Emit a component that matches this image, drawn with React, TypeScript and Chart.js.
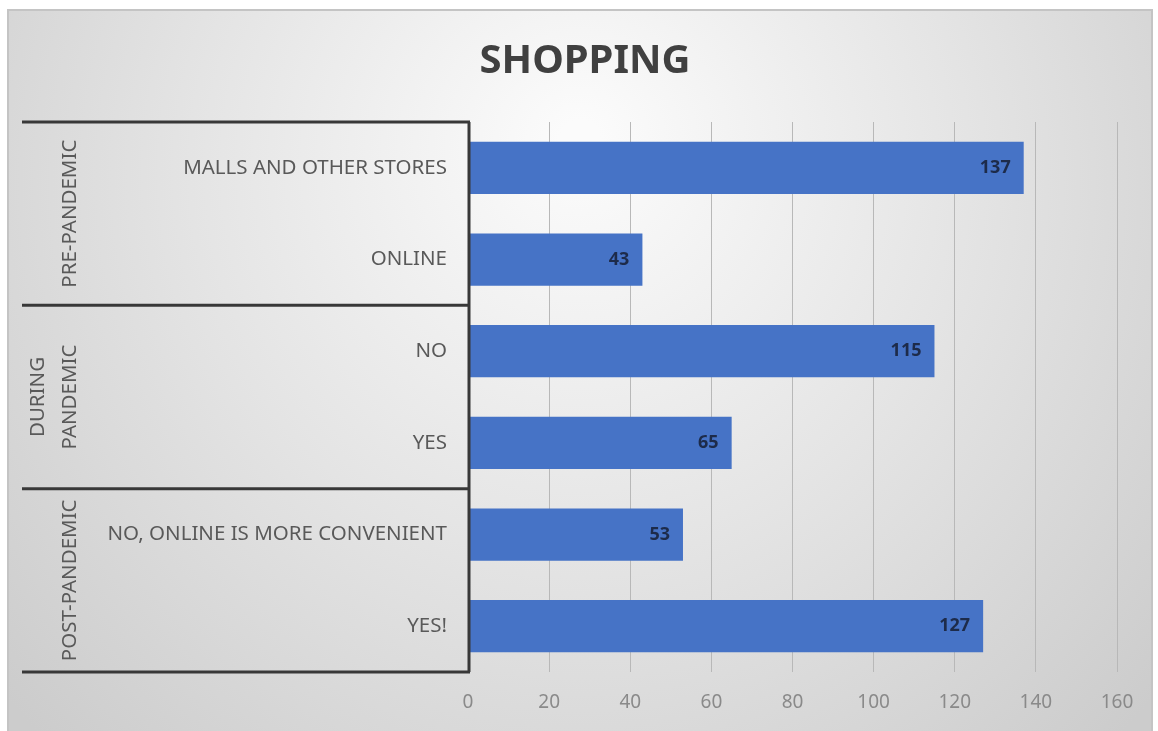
import React, { useEffect, useRef } from "react";
import { Chart, registerables } from "chart.js";

Chart.register(...registerables);

const categories = [
  "MALLS AND OTHER STORES",
  "ONLINE",
  "NO",
  "YES",
  "NO, ONLINE IS MORE CONVENIENT",
  "YES!",
];
const values = [137, 43, 115, 65, 53, 127];
const groups: { label: string[]; count: number }[] = [
  { label: ["PRE-PANDEMIC"], count: 2 },
  { label: ["DURING", "PANDEMIC"], count: 2 },
  { label: ["POST-PANDEMIC"], count: 2 },
];
const xMin = 0;
const xMax = 160;
const xStep = 20;
const titleText = "SHOPPING";

const FONT = "'Noto Sans', sans-serif";

const backgroundPlugin = {
  id: "bgPlugin",
  beforeDraw(chart: any) {
    const { ctx, width, height } = chart;
    ctx.save();
    ctx.fillStyle = "#ffffff";
    ctx.fillRect(0, 0, width, height);
    const g = ctx.createRadialGradient(580, 140, 20, 580, 200, 760);
    g.addColorStop(0, "#fbfbfb");
    g.addColorStop(0.5, "#e4e4e4");
    g.addColorStop(1, "#cccccc");
    ctx.fillStyle = g;
    ctx.fillRect(8, 10, width - 14, height - 10);
    ctx.strokeStyle = "#c4c4c4";
    ctx.lineWidth = 2;
    ctx.beginPath();
    ctx.moveTo(8, height);
    ctx.lineTo(8, 10);
    ctx.lineTo(width - 6, 10);
    ctx.lineTo(width - 6, height);
    ctx.stroke();
    ctx.restore();
  },
};

const boxPlugin = {
  id: "boxPlugin",
  afterDraw(chart: any) {
    const { ctx, chartArea } = chart;
    const yScale = chart.scales.y;
    const n = categories.length;
    const band = (chartArea.bottom - chartArea.top) / n;
    const boxLeft = 22;
    const boxRight = chartArea.left + 1;
    ctx.save();
    ctx.strokeStyle = "#383838";
    ctx.lineWidth = 3;
    let idx = 0;
    const edges: number[] = [yScale.getPixelForValue(0) - band / 2];
    groups.forEach((g) => {
      idx += g.count;
      edges.push(yScale.getPixelForValue(idx - 1) + band / 2);
    });
    edges.forEach((y) => {
      ctx.beginPath();
      ctx.moveTo(boxLeft, y);
      ctx.lineTo(boxRight + 1, y);
      ctx.stroke();
    });
    ctx.beginPath();
    ctx.moveTo(boxRight, edges[0]);
    ctx.lineTo(boxRight, edges[edges.length - 1]);
    ctx.stroke();

    ctx.fillStyle = "#595959";
    ctx.font = `20.5px ${FONT}`;
    ctx.textAlign = "center";
    ctx.textBaseline = "middle";
    groups.forEach((g, gi) => {
      const cy = (edges[gi] + edges[gi + 1]) / 2;
      const lines = g.label;
      const lineGap = 32;
      lines.forEach((ln, li) => {
        const cx = 70 - (lines.length - 1 - li) * lineGap;
        ctx.save();
        ctx.translate(cx, cy);
        ctx.rotate(-Math.PI / 2);
        ctx.fillText(ln, 0, 0);
        ctx.restore();
      });
    });
    ctx.restore();
  },
};

const dataLabelPlugin = {
  id: "dataLabelPlugin",
  afterDatasetsDraw(chart: any) {
    const { ctx } = chart;
    const meta = chart.getDatasetMeta(0);
    ctx.save();
    ctx.font = `bold 18px ${FONT}`;
    ctx.fillStyle = "#1d2b4a";
    ctx.textAlign = "right";
    ctx.textBaseline = "middle";
    meta.data.forEach((bar: any, i: number) => {
      ctx.fillText(String(values[i]), bar.x - 13, bar.y);
    });
    ctx.restore();
  },
};

export default function App() {
  const ref = useRef<HTMLCanvasElement | null>(null);
  useEffect(() => {
    if (!ref.current) return;
    const chart = new Chart(ref.current, {
      type: "bar",
      data: {
        labels: categories,
        datasets: [
          {
            data: values,
            backgroundColor: "#4673c6",
            borderWidth: 0,
            categoryPercentage: 1,
            barPercentage: 0.57,
          },
        ],
      },
      options: {
        indexAxis: "y",
        responsive: false,
        animation: false,
        layout: { padding: { top: 0, right: 41, bottom: 0, left: 53 } },
        plugins: {
          legend: { display: false },
          tooltip: { enabled: false },
          title: {
            display: true,
            text: titleText,
            color: "#404040",
            font: { family: FONT, size: 40, weight: "bold" },
            padding: { top: 38, bottom: 36 },
          },
        },
        scales: {
          x: {
            min: xMin,
            max: xMax,
            ticks: {
              stepSize: xStep,
              color: "#8a8a8a",
              font: { family: FONT, size: 19 },
              padding: 19,
            },
            grid: { color: "#b8b8b8", drawTicks: false },
            border: { display: false },
            afterFit(scale: any) {
              scale.height = 59;
            },
          },
          y: {
            ticks: {
              color: "#595959",
              font: { family: FONT, size: 20.5 },
              padding: 21,
            },
            grid: { display: false, drawTicks: false },
            border: { display: false },
            afterFit(scale: any) {
              scale.width = 415;
            },
          },
        },
      },
      plugins: [backgroundPlugin, boxPlugin, dataLabelPlugin],
    });
    return () => chart.destroy();
  }, []);
  return (
    <div style={{ position: "fixed", left: 0, top: 0, width: 1158, height: 731 }}>
      <canvas ref={ref} width={1158} height={731} style={{ width: 1158, height: 731 }} />
    </div>
  );
}
